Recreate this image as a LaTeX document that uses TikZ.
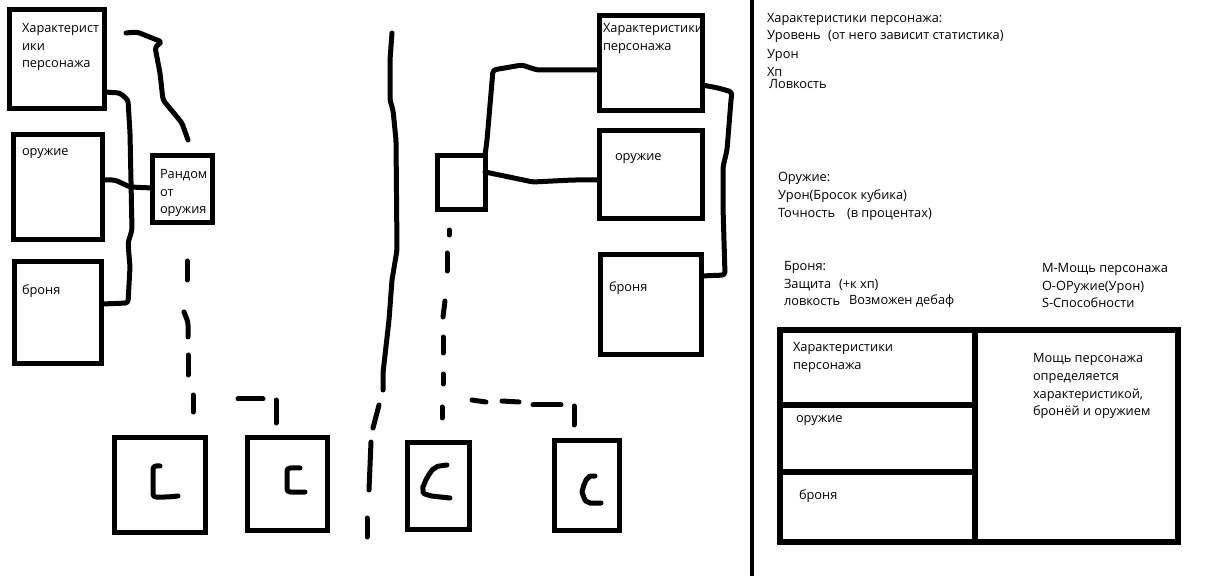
\documentclass[tikz,border=0pt]{standalone}
\usepackage{fontspec}
\setmainfont{Open Sans}
\usetikzlibrary{positioning}

\begin{document}
\begin{tikzpicture}[x=0.5pt, y=-0.5pt,
	every node/.style={font=\fontsize{6.4}{8.75}\selectfont, inner sep=0pt, outer sep=0pt},
	box/.style={draw, line width=2.5pt, anchor=north west},
	cell/.style={draw, line width=3pt, anchor=north west},
	hand/.style={line width=2.5pt, line cap=round, line join=round, rounded corners=1.5pt},
	lbl/.style={anchor=base west, align=left}]
	\useasboundingbox (0,0) rectangle (1214,576);
	% left part: three stat boxes and the random box
	\node[box, minimum width=47.5pt, minimum height=49.25pt] (charL) at (9.5,10) {};
	\node[box, minimum width=44.5pt, minimum height=52.5pt] (weapL) at (13.5,134.5) {};
	\node[box, minimum width=43.75pt, minimum height=51pt] (armL) at (14,261.5) {};
	\node[box, minimum width=30pt, minimum height=33.5pt] (rnd) at (152,156) {};
	% (multi-line labels sit on their last line)
	\node[lbl] (charLtxt) at ([shift={(12.5,58)}]charL.north west) {Характерист\\ики\\персонажа};
	\node[lbl] (weapLtxt) at ([shift={(8.5,21.5)}]weapL.north west) {оружие};
	\node[lbl] (armLtxt) at ([shift={(8,33.5)}]armL.north west) {броня};
	\node[lbl] (rndtxt) at ([shift={(8,58)}]rnd.north west) {Рандом\\от\\оружия};
	\draw[hand] (charL.east |- 0,92) -- (120,93) -- (128,100) -- (130,133) -- (132,230) -- (128,243) -- (130,267) -- (128,303) -- (armL.east |- 0,304);
	\draw[hand] (weapL.east |- 0,180) -- (115,180) -- (130,187) -- (rnd.west |- 0,188);
	\draw[hand] (126,33) -- (137,32) -- (162,42) -- (155,47) -- (160,73) -- (163,100) -- (182,123) -- (188,140);
	% dashed path to the cards
	\draw[hand] (187,261) -- (187,280);
	\draw[hand] (184,312) -- (188,322) -- (188,337);
	\draw[hand] (188,355) -- (188,375);
	\draw[hand] (193,395) -- (193,412);
	\draw[hand] (238,399) -- (263,399);
	\draw[hand] (276,400) -- (276,423);
	% middle split
	\draw[hand] (392,33) -- (390,60) -- (390,100) -- (393,110) -- (396,140) -- (397,250) -- (392,280) -- (389,320) -- (383,373) -- (383,390);
	\draw[hand] (379,405) -- (373,428);
	\draw[hand] (371,442) -- (369,490);
	\draw[hand] (367,518) -- (367,537);
	% right part
	\node[box, minimum width=23.75pt, minimum height=27pt] (sq) at (437.5,155.5) {};
	\node[box, minimum width=51.5pt, minimum height=47.5pt] (charR) at (599.5,15.5) {};
	\node[box, minimum width=51.5pt, minimum height=44pt] (weapR) at (599.5,130.5) {};
	\node[box, minimum width=50.5pt, minimum height=50pt] (armR) at (600.5,254.5) {};
	\node[lbl] (charRtxt) at ([shift={(3.5,35)}]charR.north west) {Характеристики\\персонажа};
	\node[lbl] (weapRtxt) at ([shift={(15.5,30.5)}]weapR.north west) {оружие};
	\node[lbl] (armRtxt) at ([shift={(8.5,37.5)}]armR.north west) {броня};
	\draw[hand] (sq.north east) -- (487,140) -- (493,70) -- (522,65) -- (537,70) -- (charR.west |- 0,70);
	\draw[hand] (sq.east |- 0,172) -- (533,182) -- (573,180) -- (weapR.west |- 0,180);
	\draw[hand] (charR.east |- 0,85) -- (718,88) -- (732,92) -- (731,100) -- (727,150) -- (723,167) -- (723,207) -- (725,275) -- (armR.east |- 0,276);
	\draw[hand] (449,230) -- (449,235);
	\draw[hand] (447,253) -- (447,271);
	\draw[hand] (445,301) -- (443,317);
	\draw[hand] (443,337) -- (443,353);
	\draw[hand] (443,374) -- (443,384);
	\draw[hand] (442,407) -- (442,418);
	\draw[hand] (472,400) -- (486,402);
	\draw[hand] (502,401) -- (519,402);
	\draw[hand] (533,405) -- (561,405);
	\draw[hand] (574,406) -- (574,425);
	% cards
	\node[box, minimum width=45.5pt, minimum height=47.5pt] (card1) at (114.5,437.5) {};
	\node[box, minimum width=40pt, minimum height=46.5pt] (card2) at (247.5,437.5) {};
	\node[box, minimum width=31pt, minimum height=43.5pt] (card3) at (407.5,442.5) {};
	\node[box, minimum width=32.5pt, minimum height=45pt] (card4) at (554.5,440.5) {};
	\draw[hand] (160,466) -- (153,466) -- (153,497) -- (168,497) -- (178,496);
	\draw[hand] (300,468) -- (287,468) -- (287,492) -- (305,492);
	\draw[hand] plot[smooth] coordinates {(447,465) (435,468) (427,478) (423,490) (428,495) (450,498)};
	\draw[hand] plot[smooth] coordinates {(595,476) (588,478) (583,488) (583,495) (588,502) (601,503)};
	% divider
	\draw[line width=2pt] (751.5,0) -- (751.5,576);
	% notes
	\node[lbl] (n1) at (767,23) {Характеристики персонажа:};
	\node[lbl] (n2) at (767,40) {Уровень};
	\node[lbl] (n2b) at (828,40) {(от него зависит статистика)};
	\node[lbl] (n3) at (767,59) {Урон};
	\node[lbl] (n4) at (767,77) {Хп};
	\node[lbl] (n5) at (769,89) {Ловкость};
	\node[lbl] (w1) at (778,182) {Оружие:};
	\node[lbl] (w2) at (778,200) {Урон(Бросок кубика)};
	\node[lbl] (w3) at (778,218) {Точность};
	\node[lbl] (w3b) at (847,218) {(в процентах)};
	\node[lbl] (a1) at (784,271) {Броня:};
	\node[lbl] (a2) at (784,289) {Защита};
	\node[lbl] (a2b) at (839,289) {(+к хп)};
	\node[lbl] (a3) at (784,306) {ловкость};
	\node[lbl] (a3b) at (849,305) {Возможен дебаф};
	\node[lbl] (k1) at (1042,273) {M-Мощь персонажа};
	\node[lbl] (k2) at (1042,291) {O-ОРужие(Урон)};
	\node[lbl] (k3) at (1042,308) {S-Способности};
	% power table
	\node[cell, minimum width=97.5pt, minimum height=37.5pt] (tChar) at (780,330) {};
	\node[cell, minimum width=97.5pt, minimum height=33.5pt] (tWeap) at (780,405) {};
	\node[cell, minimum width=97.5pt, minimum height=35pt] (tArm) at (780,472) {};
	\node[cell, minimum width=101.5pt, minimum height=106pt] (tPow) at (975,330) {};
	\node[lbl] (tChartxt) at ([shift={(13,39.5)}]tChar.north west) {Характеристики\\персонажа};
	\node[lbl] (tWeaptxt) at ([shift={(16,18)}]tWeap.north west) {оружие};
	\node[lbl] (tArmtxt) at ([shift={(19,27)}]tArm.north west) {броня};
	\node[lbl] (tPowtxt) at ([shift={(58,85.5)}]tPow.north west) {Мощь персонажа\\определяется\\характеристикой,\\бронёй и оружием};
\end{tikzpicture}
\end{document}
